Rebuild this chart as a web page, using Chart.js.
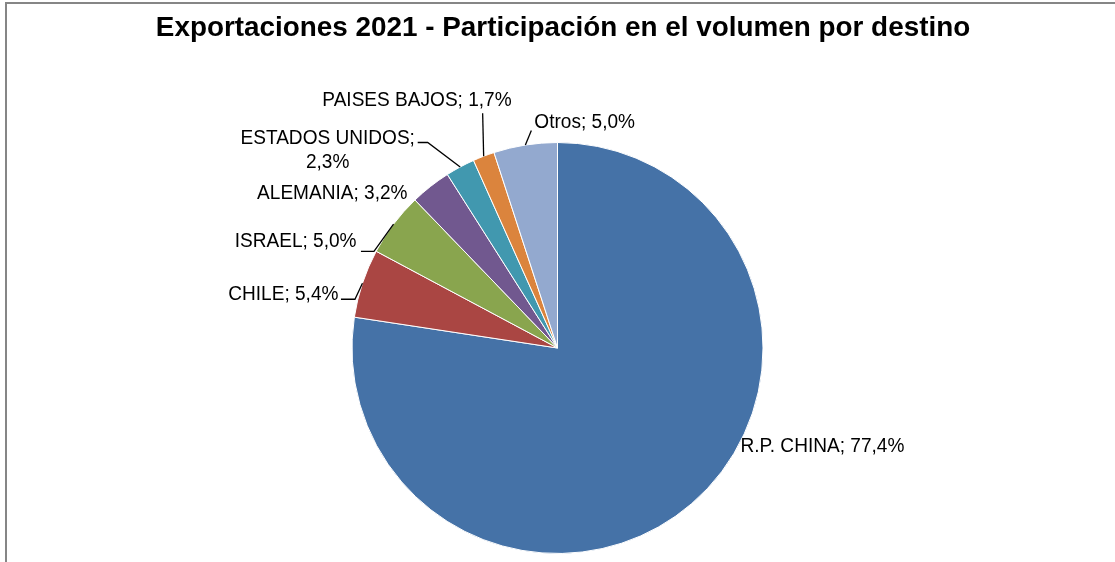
<!DOCTYPE html>
<html>
<head>
<meta charset="utf-8">
<script src="https://cdn.jsdelivr.net/npm/chart.js@4"></script>
<style>
  html, body { margin: 0; padding: 0; background: #fff; }
  #wrap { width: 1115px; height: 562px; }
</style>
</head>
<body>
<div id="wrap"><canvas id="pieChart" width="1115" height="562"></canvas></div>
<script>
// data
const categories = ['R.P. CHINA', 'CHILE', 'ISRAEL', 'ALEMANIA', 'ESTADOS UNIDOS', 'PAISES BAJOS', 'Otros'];
const shares = [77.4, 5.4, 5.0, 3.2, 2.3, 1.7, 5.0];
const sliceColors = ['#4572A7', '#AA4643', '#89A54E', '#71588F', '#4198AF', '#DB843D', '#93A9CF'];
const chartTitle = 'Exportaciones 2021 - Participación en el volumen por destino';

// label placement relative to the slice edge point (dx, dy of text; leader start / elbow)
const labelPlace = [
    { dx: 49, dy: -57, align: 'left' },
    { dx: -24, dy: 11, align: 'right', lead: [-21.5, 16], elbow: [-7.5, 16] },
    { dx: -37, dy: 17, align: 'right', lead: [-32.6, 27.2], elbow: [-19.6, 27.2] },
    { dx: -23, dy: 7, align: 'right' },
    { dx: -132.5, dy: -29, align: 'center', split: true, lead: [-42.5, -24.5], elbow: [-32.5, -24.5] },
    { dx: 28, dy: -56, align: 'right', lead: [-1, -43] },
    { dx: 9, dy: -23, align: 'left', lead: [6, -14.5] }
];

// the original uses a narrow face; squeeze the sans horizontally
const labelSqueeze = 0.93;

function fmt(v) {
    return v.toFixed(1).replace('.', ',') + '%';
}

function squeezedText(c, txt, x, y, k) {
    c.save();
    c.scale(k, 1);
    c.fillText(txt, x / k, y);
    c.restore();
}

const decorPlugin = {
    id: 'decor',
    beforeDraw(chart) {
        const c = chart.ctx;
        c.save();
        c.strokeStyle = '#868686';
        c.lineWidth = 2;
        c.strokeRect(6, 3, 1300, 800);
        c.fillStyle = '#000';
        c.font = "bold 28px 'Liberation Sans', Arial, sans-serif";
        c.textAlign = 'center';
        c.textBaseline = 'middle';
        squeezedText(c, chartTitle, 563, 28, 0.995);
        c.restore();
    },
    afterDatasetsDraw(chart) {
        const c = chart.ctx;
        const meta = chart.getDatasetMeta(0);
        c.save();
        c.font = "20.5px 'Liberation Sans', Arial, sans-serif";
        c.fillStyle = '#000';
        c.strokeStyle = '#000';
        c.lineWidth = 1.3;
        c.textBaseline = 'middle';
        meta.data.forEach(function (arc, i) {
            const p = arc.getProps(['x', 'y', 'startAngle', 'endAngle', 'outerRadius'], true);
            const mid = (p.startAngle + p.endAngle) / 2;
            const ex = p.x + Math.cos(mid) * p.outerRadius;
            const ey = p.y + Math.sin(mid) * p.outerRadius;
            const pl = labelPlace[i];
            c.textAlign = pl.align;
            if (pl.split) {
                squeezedText(c, categories[i] + ';', ex + pl.dx, ey + pl.dy, labelSqueeze);
                squeezedText(c, fmt(shares[i]), ex + pl.dx, ey + pl.dy + 24, labelSqueeze);
            } else {
                squeezedText(c, categories[i] + '; ' + fmt(shares[i]), ex + pl.dx, ey + pl.dy, labelSqueeze);
            }
            if (pl.lead) {
                c.beginPath();
                c.moveTo(ex + pl.lead[0], ey + pl.lead[1]);
                if (pl.elbow) c.lineTo(ex + pl.elbow[0], ey + pl.elbow[1]);
                c.lineTo(ex, ey);
                c.stroke();
            }
        });
        c.restore();
    }
};

new Chart(document.getElementById('pieChart').getContext('2d'), {
    type: 'pie',
    data: {
        labels: categories,
        datasets: [{
            data: shares,
            backgroundColor: sliceColors,
            borderColor: '#ffffff',
            borderWidth: 1
        }]
    },
    options: {
        responsive: false,
        animation: false,
        layout: { padding: { top: 142, bottom: 8, left: 0, right: 0 } },
        plugins: {
            legend: { display: false },
            title: { display: false },
            tooltip: { enabled: false }
        }
    },
    plugins: [decorPlugin]
});
</script>
</body>
</html>
